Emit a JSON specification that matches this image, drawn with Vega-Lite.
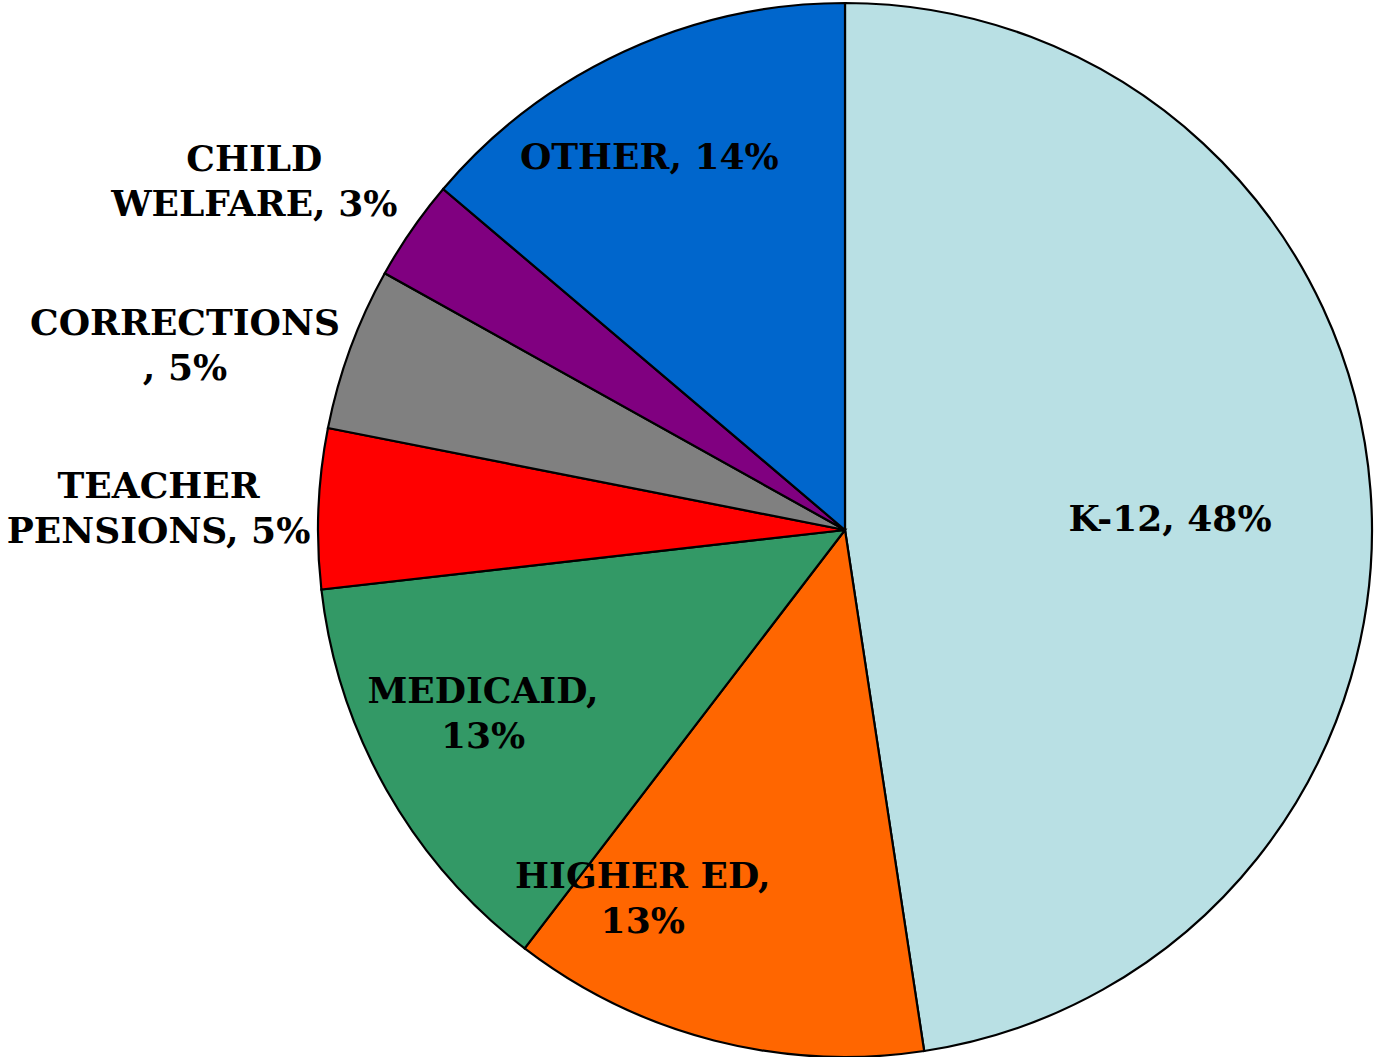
{
  "$schema": "https://vega.github.io/schema/vega-lite/v6.json",
  "autosize": "none",
  "width": 1054,
  "height": 1054,
  "padding": {"left": 318, "top": 3, "right": 2, "bottom": 0},
  "background": "white",
  "view": {"stroke": null},
  "data": {
    "values": [
      {"category": "K-12", "value": 47.6, "order": 1, "label": "K-12, 48%"},
      {"category": "HIGHER ED", "value": 12.8, "order": 2, "label": "HIGHER ED,\n13%"},
      {"category": "MEDICAID", "value": 12.8, "order": 3, "label": "MEDICAID,\n13%"},
      {"category": "TEACHER PENSIONS", "value": 4.9, "order": 4, "label": "TEACHER\nPENSIONS, 5%"},
      {"category": "CORRECTIONS", "value": 5.0, "order": 5, "label": "CORRECTIONS\n, 5%"},
      {"category": "CHILD WELFARE", "value": 3.1, "order": 6, "label": "CHILD\nWELFARE, 3%"},
      {"category": "OTHER", "value": 13.8, "order": 7, "label": "OTHER, 14%"}
    ]
  },
  "encoding": {
    "theta": {"field": "value", "type": "quantitative", "stack": true},
    "order": {"field": "order", "type": "quantitative"},
    "detail": {"field": "category", "type": "nominal"}
  },
  "layer": [
    {
      "mark": {"type": "arc", "outerRadius": 527, "stroke": "black", "strokeWidth": 2.2},
      "encoding": {
        "color": {
          "field": "category",
          "type": "nominal",
          "legend": null,
          "scale": {
            "domain": ["K-12", "HIGHER ED", "MEDICAID", "TEACHER PENSIONS", "CORRECTIONS", "CHILD WELFARE", "OTHER"],
            "range": ["#B9E0E4", "#FF6600", "#339966", "#FF0000", "#808080", "#800080", "#0066CC"]
          }
        }
      }
    },
    {
      "mark": {"type": "text", "radius": 326, "dy": 15, "font": "DejaVu Serif", "fontWeight": "bold", "fontSize": 36, "lineHeight": 45, "lineBreak": "\n", "color": "black", "align": "center", "baseline": "middle"},
      "encoding": {"text": {"condition": {"test": "datum.category === 'K-12'", "field": "label"}, "value": ""}}
    },
    {
      "mark": {"type": "text", "radius": 411, "dx": -23, "dy": 1, "font": "DejaVu Serif", "fontWeight": "bold", "fontSize": 36, "lineHeight": 45, "lineBreak": "\n", "color": "black", "align": "center", "baseline": "middle"},
      "encoding": {"text": {"condition": {"test": "datum.category === 'OTHER'", "field": "label"}, "value": ""}}
    },
    {
      "mark": {"type": "text", "radius": 379, "dx": -108, "dy": -20, "font": "DejaVu Serif", "fontWeight": "bold", "fontSize": 36, "lineHeight": 45, "lineBreak": "\n", "color": "black", "align": "center", "baseline": "middle"},
      "encoding": {"text": {"condition": {"test": "datum.category === 'HIGHER ED'", "field": "label"}, "value": ""}}
    },
    {
      "mark": {"type": "text", "radius": 370, "dx": -40, "dy": -20, "font": "DejaVu Serif", "fontWeight": "bold", "fontSize": 36, "lineHeight": 45, "lineBreak": "\n", "color": "black", "align": "center", "baseline": "middle"},
      "encoding": {"text": {"condition": {"test": "datum.category === 'MEDICAID'", "field": "label"}, "value": ""}}
    },
    {
      "mark": {"type": "text", "radius": 687, "dy": -15, "font": "DejaVu Serif", "fontWeight": "bold", "fontSize": 36, "lineHeight": 45, "lineBreak": "\n", "color": "black", "align": "center", "baseline": "middle"},
      "encoding": {"text": {"condition": {"test": "datum.category === 'TEACHER PENSIONS'", "field": "label"}, "value": ""}}
    },
    {
      "mark": {"type": "text", "radius": 685, "dx": -17, "dy": 30, "font": "DejaVu Serif", "fontWeight": "bold", "fontSize": 36, "lineHeight": 45, "lineBreak": "\n", "color": "black", "align": "center", "baseline": "middle"},
      "encoding": {"text": {"condition": {"test": "datum.category === 'CORRECTIONS'", "field": "label"}, "value": ""}}
    },
    {
      "mark": {"type": "text", "radius": 686, "dx": -27, "dy": 21, "font": "DejaVu Serif", "fontWeight": "bold", "fontSize": 36, "lineHeight": 45, "lineBreak": "\n", "color": "black", "align": "center", "baseline": "middle"},
      "encoding": {"text": {"condition": {"test": "datum.category === 'CHILD WELFARE'", "field": "label"}, "value": ""}}
    }
  ]
}
